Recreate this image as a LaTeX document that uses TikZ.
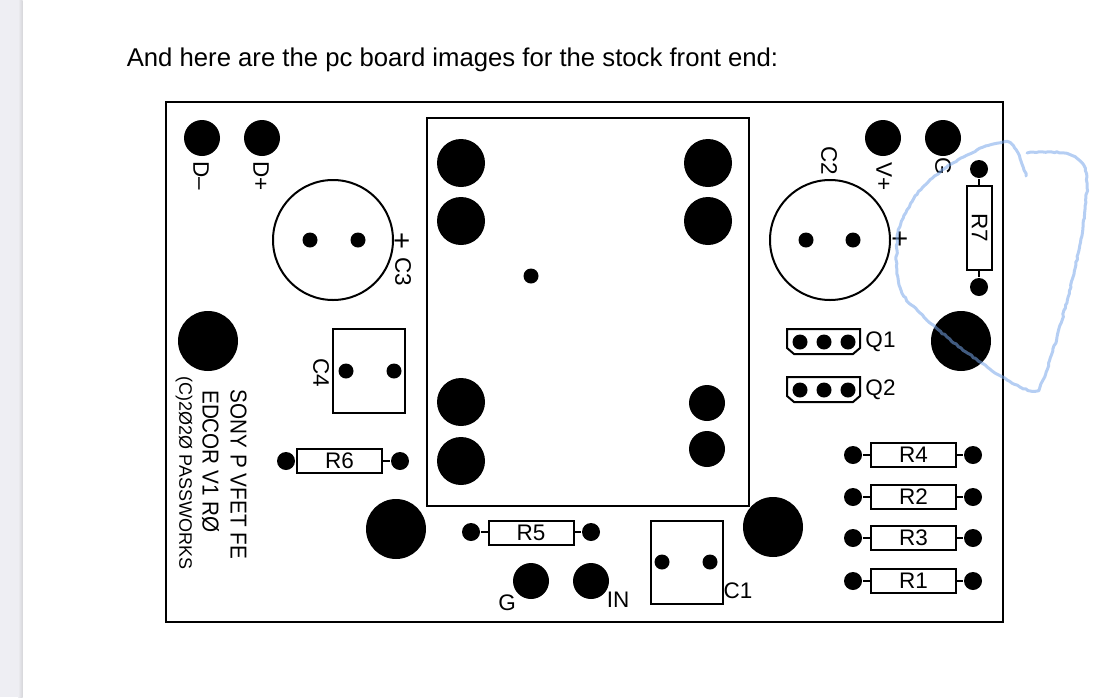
\documentclass[tikz,border=0pt]{standalone}
\usepackage{fontspec}
\setmainfont{Liberation Sans}
\newfontfamily\silkfont[FakeStretch=0.9]{Liberation Sans}
\usetikzlibrary{decorations.pathmorphing}
\definecolor{stripgray}{HTML}{EEEEF3}
\definecolor{stripedge}{HTML}{D6D6DA}
\definecolor{scribble}{HTML}{78A6EA}
\begin{document}
\begin{tikzpicture}[x=1pt, y=-1pt, font=\fontsize{22.5}{22.5}\selectfont, line width=2pt]
	\useasboundingbox (0,0) rectangle (1104,697);
	\fill[stripgray] (0,0) rectangle (20,697);
	\shade[left color=stripgray, right color=stripedge] (18,0) rectangle (22.5,697);
      \tikzstyle{pad} = [circle, fill=black, inner sep=0pt, minimum size=#1]
      \tikzstyle{label} = [inner sep=0pt]
      \tikzstyle{vlabel} = [inner sep=0pt, rotate=-90]
      \tikzstyle{resbox} = [draw, inner sep=0pt, minimum width=85pt, minimum height=24pt]
      \tikzstyle{vresbox} = [draw, inner sep=0pt, minimum width=25pt, minimum height=84pt]
      \node (title) at (452.5,60) [label, font=\fontsize{25.7}{26}\selectfont] {And here are the pc board images for the stock front end:};
      \draw[line width=2.5pt] (166,102) rectangle (1003,622);
      \draw[line width=2pt] (427,118) rectangle (749,506);

      \node (Dminus) at (202,138) [pad=36pt] {};
      \node (Dplus) at (262,138) [pad=36pt] {};
      \node (Vplus) at (883,138) [pad=36pt] {};
      \node (Gtop) at (943,138) [pad=36pt] {};
      \node (Gin) at (531,581) [pad=36pt] {};
      \node (IN) at (591,581) [pad=36pt] {};
      \node at (201,176) [vlabel] {D–};
      \node at (261,176) [vlabel] {D+};
      \node at (884,177) [vlabel] {V+};
      \node at (943,166) [vlabel] {G};
      \node at (507,603) [label] {G};
      \node at (618,600) [label] {IN};

      \node (holeA) at (208,341) [pad=60pt] {};
      \node (holeB) at (396,529) [pad=60pt] {};
      \node (holeC) at (773,527) [pad=60pt] {};
      \node (holeD) at (961,341) [pad=60pt] {};

      \node (relayA) at (461,163) [pad=48pt] {};
      \node (relayB) at (461,221) [pad=48pt] {};
      \node (relayC) at (708,163) [pad=48pt] {};
      \node (relayD) at (708,221) [pad=48pt] {};
      \node (relayE) at (461,402) [pad=48pt] {};
      \node (relayF) at (461,461) [pad=48pt] {};
      \node (relayG) at (707,403) [pad=36pt] {};
      \node (relayH) at (707,449) [pad=36pt] {};
      \node (relayI) at (531,276) [pad=15pt] {};

      \draw (333,240) circle (60);
      \node (C3a) at (310,240) [pad=15pt] {};
      \node (C3b) at (358,240) [pad=15pt] {};
      \node at (401,241) [vlabel, font=\fontsize{29}{29}\selectfont] {+};
      \node at (403,272) [vlabel] {C3};

      \draw (830,240) circle (60);
      \node (C2a) at (806,240) [pad=15pt] {};
      \node (C2b) at (853,240) [pad=15pt] {};
      \node at (899,239) [vlabel, font=\fontsize{29}{29}\selectfont] {+};
      \node at (829,161) [vlabel] {C2};

      \draw (333,329) rectangle (405,413);
      \node (C4a) at (346,371) [pad=15pt] {};
      \node (C4b) at (394,371) [pad=15pt] {};
      \node at (321,373) [vlabel] {C4};

      \draw (651,521) rectangle (723,604);
      \node (C1a) at (662,562) [pad=15pt] {};
      \node (C1b) at (710,562) [pad=15pt] {};
      \node at (738,591) [label] {C1};

      \foreach \name/\y in {Q1/329, Q2/377} {
        \draw (787,\y) -- (860,\y) -- (860,\y+19) -- (853,\y+25) -- (794,\y+25) -- (787,\y+19) -- cycle;
        \node (\name a) at (800,\y+13) [pad=15pt] {};
        \node (\name b) at (824,\y+13) [pad=15pt] {};
        \node (\name c) at (848,\y+13) [pad=15pt] {};
        \node at (880.5,\y+13) [label] {\name};
      }

      \foreach \name/\y in {R4/455, R2/497, R3/538, R1/581} {
        \node (\name) at (913.5,\y) [resbox] {\name};
        \node (\name a) at (853,\y) [pad=18pt] {};
        \node (\name b) at (973,\y) [pad=18pt] {};
        \draw (\name a) -- (\name);
        \draw (\name) -- (\name b);
      }

      \node (R6) at (339.5,461) [resbox] {R6};
      \node (R6a) at (286,461) [pad=18pt] {};
      \node (R6b) at (400,461) [pad=18pt] {};
      \draw (R6a) -- (R6);
      \draw (R6) -- (R6b);

      \node (R5) at (531,533) [resbox] {R5};
      \node (R5a) at (471,532) [pad=18pt] {};
      \node (R5b) at (591,532) [pad=18pt] {};
      \draw (R5a) -- (R5a -| R5.west);
      \draw (R5b -| R5.east) -- (R5b);

      \node (R7) at (979.5,228) [vresbox] {};
      \node at (R7) [vlabel] {R7};
      \node (R7a) at (979,169) [pad=18pt] {};
      \node (R7b) at (979,287) [pad=18pt] {};
      \draw (R7a) -- (R7a |- R7.north);
      \draw (R7b |- R7.south) -- (R7b);

      \node at (238.5,474.5) [vlabel, font=\silkfont\fontsize{23}{23}\selectfont] {SONY P VFET FE};
      \node at (210.5,461.5) [vlabel, font=\silkfont\fontsize{23}{23}\selectfont] {EDCOR V1 RØ};
      \node at (184,473) [vlabel, font=\fontsize{18}{18}\selectfont] {(C)2Ø2Ø PASSWORKS};

      \draw[scribble, opacity=0.55, line width=3pt, line cap=round, line join=round, decorate, decoration={random steps, segment length=3pt, amplitude=0.7pt}] plot[smooth, tension=0.6] coordinates {(1026,176) (1018,153) (1010,143) (1000,143) (977,150) (947,167) (923,187) (907,210) (898,233) (897,270) (902,293) (920,313) (947,337) (980,362) (1007,380) (1033,391) (1043,380) (1057,337) (1073,277) (1083,227) (1087,183) (1082,163) (1063,153) (1027,153)};
    \end{tikzpicture}
\end{document}
